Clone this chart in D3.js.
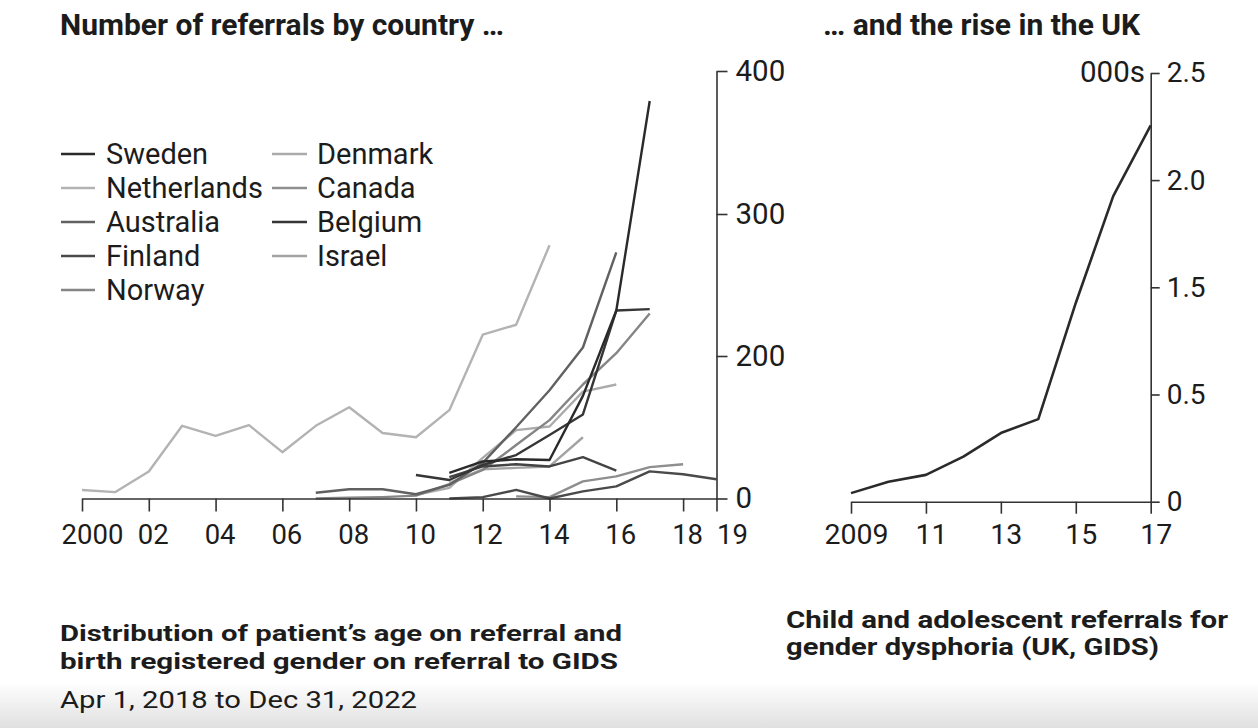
<!DOCTYPE html>
<html><head><meta charset="utf-8">
<script src="https://cdn.jsdelivr.net/npm/d3@7"></script>
<style>
html,body{margin:0;padding:0;background:#fff;}
svg{display:block;font-family:Roboto,"Noto Sans",sans-serif;}
</style></head><body>
<svg id="chart" width="1258" height="728"></svg>
<script>
// ---------- DATA ----------
const leftTickYears = [2000, 2002, 2004, 2006, 2008, 2010, 2012, 2014, 2016, 2018, 2019];
const leftTickLabels = ["2000", "02", "04", "06", "08", "10", "12", "14", "16", "18", "19"];
const leftYTicks = [0, 200, 300, 400];
const leftYTickLabels = ["0", "200", "300", "400"];

const netherlandsYears = [2000,2001,2002,2003,2004,2005,2006,2007,2008,2009,2010,2011,2012,2013,2014];
const netherlands      = [12, 9, 38, 102, 88, 103, 65, 102, 128, 92, 86, 124, 215, 222, 278];
const swedenYears = [2011,2012,2013,2014,2015,2016,2017];
const sweden      = [36, 52, 55, 54, 144, 232, 379];
const belgiumYears = [2010,2011,2012,2013,2014,2015,2016,2017];
const belgium      = [33, 26, 47, 61, 89, 118, 232, 233];
const norwayYears = [2007,2008,2009,2010,2011,2012,2013,2014,2015,2016,2017];
const norway      = [0, 1, 2, 4, 20, 40, 75, 110, 160, 202, 230];
const australiaYears = [2007,2008,2009,2010,2011,2012,2013,2014,2015,2016];
const australia      = [8, 13, 13, 6, 19, 50, 100, 152, 206, 273];
const finlandYears = [2011,2012,2013,2014,2015,2016,2017,2018,2019];
const finland      = [0, 2, 12, 0, 10, 17, 38, 34, 27];
const canadaYears = [2013,2014,2015,2016,2017,2018];
const canada      = [3, 2, 24, 31, 44, 48];
const denmarkYears = [2010,2011,2012,2013,2014,2015,2016];
const denmark      = [5, 15, 57, 96, 101, 150, 160];
const israelYears = [2011,2012,2013,2014,2015];
const israel      = [22, 41, 43, 45, 86];
const otherYears = [2011,2012,2013,2014,2015,2016];
const other      = [30, 45, 48, 45, 58, 39];

const legendCol1 = ["Sweden", "Netherlands", "Australia", "Finland", "Norway"];
const legendCol2 = ["Denmark", "Canada", "Belgium", "Israel"];

const ukYears = [2009,2010,2011,2012,2013,2014,2015,2016,2017];
const ukReferrals = [0.04, 0.093, 0.125, 0.21, 0.32, 0.385, 1.354, 1.925, 2.255];
const rightTickYears = [2009, 2011, 2013, 2015, 2017];
const rightTickLabels = ["2009", "11", "13", "15", "17"];
const rightYTicks = [0, 0.5, 1.5, 2.0, 2.5];
const rightYTickLabels = ["0", "0.5", "1.5", "2.0", "2.5"];

// ---------- STYLE ----------
const colors = {
  Sweden: "#2a2a2a", Netherlands: "#b3b3b3", Australia: "#616161", Finland: "#4a4a4a",
  Norway: "#858585", Denmark: "#ababab", Canada: "#8e8e8e", Belgium: "#363636",
  Israel: "#a3a3a3", Other: "#444444"
};
const series = [
  {name: "Netherlands", years: netherlandsYears, values: netherlands},
  {name: "Denmark", years: denmarkYears, values: denmark},
  {name: "Israel", years: israelYears, values: israel},
  {name: "Canada", years: canadaYears, values: canada},
  {name: "Norway", years: norwayYears, values: norway},
  {name: "Australia", years: australiaYears, values: australia},
  {name: "Other", years: otherYears, values: other},
  {name: "Finland", years: finlandYears, values: finland},
  {name: "Belgium", years: belgiumYears, values: belgium},
  {name: "Sweden", years: swedenYears, values: sweden}
];

const svg = d3.select("#chart");
const ink = "#1c1c1c";
const axisInk = "#333";

// background fade at bottom
const defs = svg.append("defs");
const grad = defs.append("linearGradient").attr("id", "fade").attr("x1", 0).attr("y1", 0).attr("x2", 0).attr("y2", 1);
grad.append("stop").attr("offset", 0).attr("stop-color", "#ffffff");
grad.append("stop").attr("offset", 1).attr("stop-color", "#e0e0e0");
svg.append("rect").attr("x", 0).attr("y", 0).attr("width", 1258).attr("height", 728).attr("fill", "#fff");
svg.append("rect").attr("x", 0).attr("y", 682).attr("width", 1258).attr("height", 46).attr("fill", "url(#fade)");

// ---------- LEFT CHART ----------
const xL = d3.scaleLinear().domain([2000, 2019]).range([82, 716.5]);
const yL = d3.scaleLinear().domain(leftYTicks).range([498.5, 356, 214, 71]);

const line = (xs, ys) => d3.line().x(d => xs(d[0])).y(d => ys(d[1]));

const gLines = svg.append("g");
series.forEach(s => {
  const pts = s.years.map((yr, i) => [yr, s.values[i]]);
  gLines.append("path").attr("d", line(xL, yL)(pts))
    .attr("fill", "none").attr("stroke", colors[s.name]).attr("stroke-width", 2.4)
    .attr("stroke-linejoin", "round");
});

const xAxisL = svg.append("g").attr("transform", `translate(0,${yL(0)})`)
  .call(d3.axisBottom(xL).tickValues(leftTickYears).tickSize(13).tickSizeOuter(0).tickPadding(13)
    .tickFormat((d, i) => leftTickLabels[i]));

const yAxisL = svg.append("g").attr("transform", `translate(${xL(2019)},0)`)
  .call(d3.axisRight(yL).tickValues(leftYTicks).tickSize(11).tickSizeOuter(0).tickPadding(8)
    .tickFormat((d, i) => leftYTickLabels[i]));

// ---------- RIGHT CHART ----------
const xR = d3.scaleLinear().domain([2009, 2017]).range([851, 1150.7]);
const yR = d3.scaleLinear().domain(rightYTicks).range([501.7, 394.5, 287.3, 180.1, 73]);

svg.append("path").attr("d", line(xR, yR)(ukYears.map((yr, i) => [yr, ukReferrals[i]])))
  .attr("fill", "none").attr("stroke", "#2a2a2a").attr("stroke-width", 2.6).attr("stroke-linejoin", "round");

const xAxisR = svg.append("g").attr("transform", `translate(0,${yR(0)})`)
  .call(d3.axisBottom(xR).tickValues(rightTickYears).tickSize(12).tickSizeOuter(0).tickPadding(10)
    .tickFormat((d, i) => rightTickLabels[i]));

const yAxisR = svg.append("g").attr("transform", `translate(${xR(2017)},0)`)
  .call(d3.axisRight(yR).tickValues(rightYTicks).tickSize(9).tickSizeOuter(0).tickPadding(7)
    .tickFormat((d, i) => rightYTickLabels[i]));

[xAxisL, yAxisL, xAxisR, yAxisR].forEach(g => {
  g.selectAll("path.domain").attr("stroke", axisInk).attr("stroke-width", 1.6);
  g.selectAll(".tick line").attr("stroke", axisInk).attr("stroke-width", 1.6);
  g.selectAll("text").attr("fill", ink).style("font-family", "Roboto");
});
xAxisL.selectAll("text").style("font-size", "27.5px")
  .attr("dx", (d, i) => i === 0 ? 10 : (i === leftTickYears.length - 1 ? 0 : 4))
  .attr("text-anchor", (d, i) => i === leftTickYears.length - 1 ? "start" : "middle");
yAxisL.selectAll("text").style("font-size", "29.5px");
xAxisR.selectAll("text").style("font-size", "28.5px").attr("dx", 5);
yAxisR.selectAll("text").style("font-size", "28px");

svg.append("text").attr("x", 1145).attr("y", 82).attr("text-anchor", "end")
  .attr("fill", ink).style("font-size", "29.5px").text("000s");

// ---------- LEGEND ----------
const legend = svg.append("g").style("font-size", "29px").attr("fill", ink);
legendCol1.forEach((name, i) => {
  const cy = 154 + i * 34;
  legend.append("line").attr("x1", 61).attr("x2", 95).attr("y1", cy).attr("y2", cy)
    .attr("stroke", colors[name]).attr("stroke-width", 2.4);
  legend.append("text").attr("x", 106).attr("y", cy + 10).text(name);
});
legendCol2.forEach((name, i) => {
  const cy = 154 + i * 34;
  legend.append("line").attr("x1", 272).attr("x2", 307).attr("y1", cy).attr("y2", cy)
    .attr("stroke", colors[name]).attr("stroke-width", 2.4);
  legend.append("text").attr("x", 317).attr("y", cy + 10).text(name);
});

// ---------- TITLES ----------
const txt = (x, y, size, weight, s, width) => {
  const t = svg.append("text").attr("x", x).attr("y", y).attr("fill", ink)
    .style("font-size", size + "px").style("font-weight", weight).text(s);
  if (width) t.attr("textLength", width).attr("lengthAdjust", "spacingAndGlyphs");
  return t;
};
txt(60, 35, 30, 700, "Number of referrals by country \u2026");
txt(823, 35, 30, 700, "\u2026 and the rise in the UK");
txt(60, 641, 22.5, 700, "Distribution of patient\u2019s age on referral and", 562);
txt(60, 668.5, 22.5, 700, "birth registered gender on referral to GIDS", 558);
txt(60, 708, 24, 400, "Apr 1, 2018 to Dec 31, 2022", 357);
txt(786, 628, 23, 700, "Child and adolescent referrals for", 442);
txt(786, 655, 23, 700, "gender dysphoria (UK, GIDS)", 373);
</script>
</body></html>
